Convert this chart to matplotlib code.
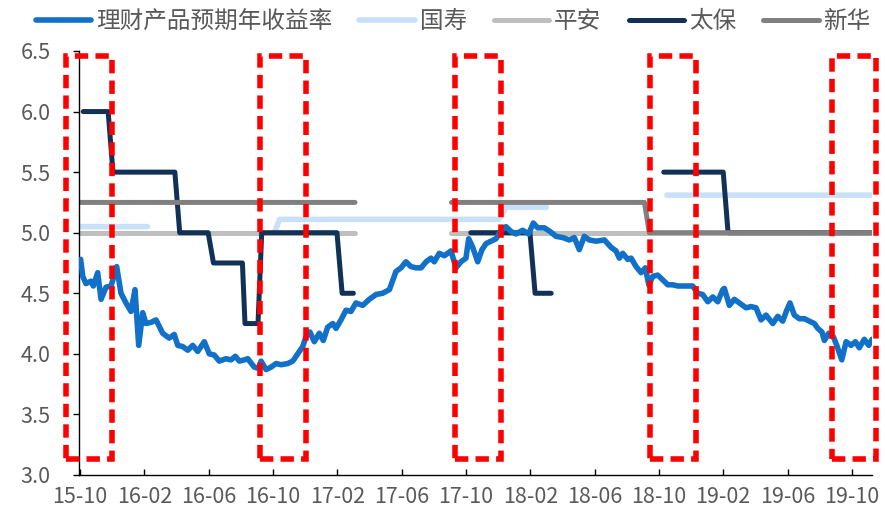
import numpy as np
import matplotlib.pyplot as plt
from matplotlib.patches import Rectangle

plt.rcParams['font.family'] = ['Noto Sans CJK SC', 'DejaVu Sans']

# x axis: months since 2015-10
tick_labels = ['15-10', '16-02', '16-06', '16-10', '17-02', '17-06', '17-10',
               '18-02', '18-06', '18-10', '19-02', '19-06', '19-10']
tick_months = [0, 4, 8, 12, 16, 20, 24, 28, 32, 36, 40, 44, 48]

# 理财产品预期年收益率
wm_month = [0.04, 0.17, 0.37, 0.68, 0.83, 1.10, 1.31, 1.62, 1.93, 2.28, 2.55, 2.86,
            3.17, 3.42, 3.65, 3.90, 4.10, 4.42, 4.73, 5.14, 5.55, 5.86, 6.08, 6.39,
            6.70, 7.01, 7.32, 7.73, 8.04, 8.35, 8.66, 9.08, 9.39, 9.66, 9.91, 10.22,
            10.43, 10.84, 11.11, 11.26, 11.57, 11.88, 12.19, 12.50, 12.92, 13.23,
            13.54, 13.85, 14.05, 14.30, 14.57, 14.88, 15.13, 15.40, 15.72, 15.92,
            16.23, 16.54, 16.85, 17.16, 17.58, 17.99, 18.41, 18.82, 19.24, 19.65,
            19.96, 20.27, 20.58, 20.90, 21.21, 21.52, 21.83, 22.03, 22.34, 22.66,
            23.07, 23.38, 23.69, 24.00, 24.17, 24.42, 24.73, 25.00, 25.25, 25.56,
            25.87, 26.18, 26.49, 26.80, 27.11, 27.53, 27.90, 28.19, 28.46, 28.88,
            29.23, 29.60, 30.02, 30.43, 30.74, 31.05, 31.36, 31.67, 32.09, 32.61,
            33.02, 33.33, 33.54, 33.75, 34.06, 34.27, 34.58, 34.89, 35.16, 35.37,
            35.62, 35.93, 36.24, 36.55, 36.86, 37.17, 37.48, 37.79, 38.10, 38.41,
            38.72, 39.04, 39.35, 39.66, 39.97, 40.07, 40.38, 40.69, 41.00, 41.42,
            41.73, 42.04, 42.35, 42.66, 43.08, 43.39, 43.70, 43.95, 44.15, 44.42,
            44.73, 45.05, 45.35, 45.67, 45.88, 46.14, 46.29, 46.56, 46.85, 47.06,
            47.37, 47.64, 47.95, 48.22, 48.46, 48.77, 49.05, 49.25]
wm_rate = [4.78, 4.64, 4.58, 4.60, 4.56, 4.67, 4.45, 4.55, 4.56, 4.72, 4.50, 4.42,
           4.35, 4.53, 4.07, 4.34, 4.25, 4.26, 4.28, 4.17, 4.13, 4.16, 4.07, 4.06,
           4.03, 4.07, 4.02, 4.10, 4.00, 3.99, 3.94, 3.96, 3.95, 3.98, 3.94, 3.95,
           3.96, 3.89, 3.88, 3.94, 3.87, 3.89, 3.92, 3.91, 3.92, 3.94,
           4.00, 4.06, 4.14, 4.18, 4.10, 4.17, 4.11, 4.22, 4.25, 4.21,
           4.28, 4.36, 4.35, 4.42, 4.40, 4.45, 4.49, 4.50, 4.53, 4.68,
           4.71, 4.76, 4.72, 4.71, 4.71, 4.76, 4.79, 4.76, 4.83, 4.81,
           4.85, 4.71, 4.76, 4.79, 4.95, 4.88, 4.76, 4.86, 4.91, 4.93,
           4.95, 5.02, 5.05, 5.01, 4.99, 5.02, 4.99, 5.08, 5.04, 5.04,
           5.01, 4.97, 4.96, 4.94, 4.96, 4.86, 4.97, 4.94, 4.93, 4.94,
           4.88, 4.85, 4.79, 4.83, 4.78, 4.79, 4.72, 4.67, 4.71, 4.57,
           4.64, 4.65, 4.61, 4.57, 4.57, 4.56, 4.56, 4.56, 4.56, 4.50,
           4.49, 4.43, 4.47, 4.43, 4.53, 4.54, 4.40, 4.45, 4.42, 4.38,
           4.39, 4.38, 4.28, 4.32, 4.25, 4.31, 4.27, 4.36, 4.42, 4.32,
           4.29, 4.29, 4.27, 4.25, 4.21, 4.18, 4.11, 4.17, 4.14, 4.07,
           3.95, 4.10, 4.07, 4.10, 4.05, 4.12, 4.07, 4.12]

# 国寿
gs_month = [0.06, 4.2, np.nan, 12.1, 12.4, 26.05, 26.5, 29.0, np.nan, 36.5, 49.2]
gs_rate = [5.05, 5.05, np.nan, 5.0, 5.11, 5.11, 5.21, 5.21, np.nan, 5.31, 5.31]

# 平安
pa_month = [0.0, 17.1, np.nan, 23.1, 49.2]
pa_rate = [5.0, 5.0, np.nan, 5.0, 5.0]

# 太保
tb_month = [0.2, 1.75, 2.05, 5.9, 6.2, 7.97, 8.3, 10.1, 10.26, 11.07, 11.3, 15.98,
            16.3, 17.0, np.nan, 24.3, 27.98, 28.3, 29.3, np.nan, 36.3, 40.0, 40.3, 49.2]
tb_rate = [6.0, 6.0, 5.5, 5.5, 5.0, 5.0, 4.75, 4.75, 4.25, 4.25, 5.0, 5.0,
           4.5, 4.5, np.nan, 5.0, 5.0, 4.5, 4.5, np.nan, 5.5, 5.5, 5.0, 5.0]

# 新华
xh_month = [0.0, 17.1, np.nan, 23.1, 35.1, 35.4, 49.2]
xh_rate = [5.25, 5.25, np.nan, 5.25, 5.25, 5.0, 5.0]

# highlighted windows (start, end month)
box_start = [-0.87, 11.18, 23.32, 35.45, 46.77]
box_end = [1.99, 14.05, 26.18, 38.31, 49.5]

fig = plt.figure(figsize=(8.85, 5.11), dpi=100)
ax = fig.add_axes([0.0893, 0.0705, 0.8960, 0.8297])

style = dict(solid_capstyle='round', solid_joinstyle='round', zorder=2)
ax.plot(gs_month, gs_rate, color='#c9e1f8', lw=4.0, label='国寿', **style)
ax.plot(pa_month, pa_rate, color='#bfbfbf', lw=3.6, label='平安', **style)
ax.plot(tb_month, tb_rate, color='#123157', lw=3.6, label='太保', **style)
ax.plot(xh_month, xh_rate, color='#808080', lw=3.6, label='新华', **style)
style['zorder'] = 3
ax.plot(wm_month, wm_rate, color='#1170c8', lw=4.0, label='理财产品预期年收益率', **style)

for s, e in zip(box_start, box_end):
    ax.add_patch(Rectangle((s, 3.13), e - s, 6.46 - 3.13, fill=False,
                           edgecolor='#ff0000', lw=4, linestyle=(0, (2.4, 1.3)),
                           clip_on=False, zorder=5))

ax.set_xlim(-0.06, 49.25)
ax.set_ylim(3.0, 6.5)
ax.set_xticks(tick_months)
ax.set_xticklabels(tick_labels)
ax.set_yticks([3.0, 3.5, 4.0, 4.5, 5.0, 5.5, 6.0, 6.5])
ax.set_yticklabels(['%.1f' % v for v in [3.0, 3.5, 4.0, 4.5, 5.0, 5.5, 6.0, 6.5]])

for side in ['top', 'right']:
    ax.spines[side].set_visible(False)
ax.spines['left'].set_linewidth(1.0)
ax.spines['bottom'].set_linewidth(1.0)
ax.tick_params(axis='x', direction='in', length=4, width=1, labelsize=15.5,
               labelcolor='#595959', pad=8)
ax.tick_params(axis='y', direction='out', length=4.5, width=1, labelsize=15.5,
               labelcolor='#595959', pad=16)

h, l = ax.get_legend_handles_labels()
order = [4, 0, 1, 2, 3]
fig.legend([h[i] for i in order], [l[i] for i in order], loc='center left',
           bbox_to_anchor=(0.027, 0.957), ncol=5, frameon=False, fontsize=17,
           labelcolor='#595959', handlelength=2.35, handletextpad=0.2,
           columnspacing=1.15, borderpad=0)

fig.savefig('out.png', dpi=100)
